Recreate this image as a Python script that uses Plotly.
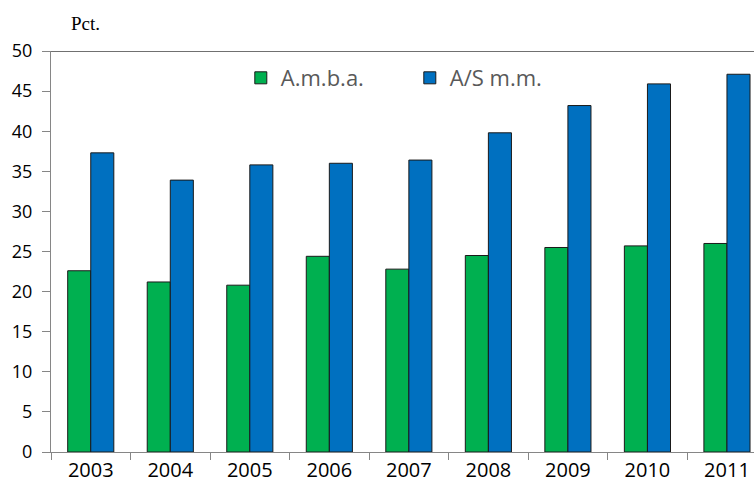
import plotly.graph_objects as go

years = ["2003", "2004", "2005", "2006", "2007", "2008", "2009", "2010", "2011"]
amba = [22.6, 21.2, 20.8, 24.4, 22.8, 24.5, 25.5, 25.7, 26.0]
asmm = [37.3, 33.9, 35.8, 36.0, 36.4, 39.8, 43.2, 45.9, 47.1]
series_names = ["A.m.b.a.", "A/S m.m."]
y_ticks = [0, 5, 10, 15, 20, 25, 30, 35, 40, 45, 50]

fig = go.Figure()
fig.add_trace(go.Bar(x=years, y=amba, name=series_names[0],
                     marker=dict(color="#00B050", line=dict(color="#1a1a1a", width=1))))
fig.add_trace(go.Bar(x=years, y=asmm, name=series_names[1],
                     marker=dict(color="#0070C0", line=dict(color="#1a1a1a", width=1))))

fig.add_shape(type="line", xref="paper", yref="y", x0=0, x1=1, y0=50, y1=50,
              line=dict(color="#404040", width=1.5))

fig.add_annotation(text="Pct.", xref="paper", yref="paper", x=0.025, y=1.0,
                   yshift=28, xanchor="left", yanchor="middle", showarrow=False,
                   font=dict(family="Liberation Serif, Times New Roman, serif", size=19, color="#000000"))

fig.update_layout(
    width=754, height=492,
    margin=dict(l=51, r=0, t=51, b=40),
    paper_bgcolor="white", plot_bgcolor="white",
    barmode="group", bargap=0.42, bargroupgap=0,
    font=dict(family="Open Sans, Noto Sans, sans-serif", size=18, color="#000000"),
    legend=dict(orientation="h", x=0.27, y=0.985, xanchor="left", yanchor="top",
                font=dict(size=22, color="#595959"), entrywidth=124, entrywidthmode="pixels",
                bgcolor="rgba(0,0,0,0)"),
    xaxis=dict(type="category", range=[-0.5, 8.34], showgrid=False,
               showline=True, linecolor="#868686", linewidth=1,
               ticks="outside", tickson="boundaries", ticklen=7, tickcolor="#868686",
               tickfont=dict(size=20)),
    yaxis=dict(range=[0, 50], tickvals=y_ticks, showgrid=False,
               showline=True, linecolor="#868686", linewidth=1,
               ticks="outside", ticklen=8, tickcolor="#868686",
               ticklabelstandoff=6, tickfont=dict(size=18), zeroline=False),
    showlegend=True,
)

fig.write_html("out.html", config={"displayModeBar": False},
               post_script="document.body.style.margin='0';document.body.style.overflow='hidden';")
